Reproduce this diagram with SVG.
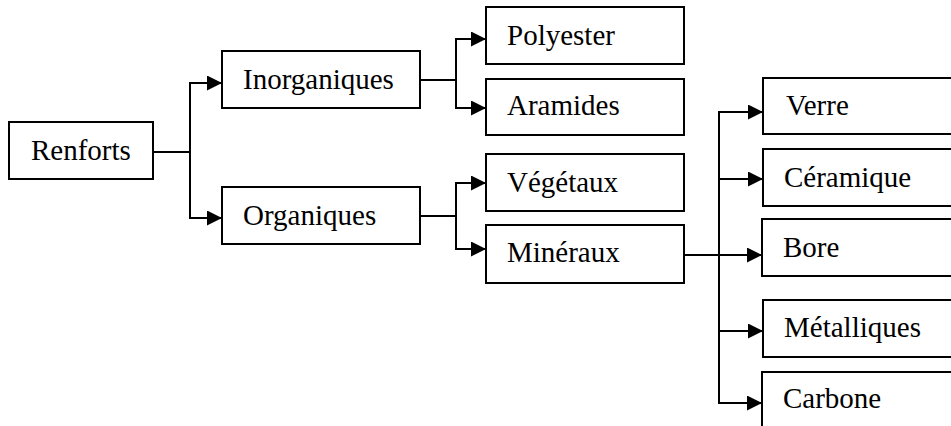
<svg xmlns="http://www.w3.org/2000/svg" width="951" height="426" viewBox="0 0 951 426">
<style>
.box{fill:#fff;stroke:#000;stroke-width:2}
.lbl{font-family:"Liberation Serif","Times New Roman",serif;font-size:29px;fill:#000}
.edge{fill:none;stroke:#000;stroke-width:2;marker-end:url(#arr)}
.plain{fill:none;stroke:#000;stroke-width:2}
</style>
<defs>
<marker id="arr" markerUnits="userSpaceOnUse" markerWidth="16" markerHeight="16" refX="15" refY="7.5" orient="auto">
<path d="M0,0 L15,7.5 L0,15 z" fill="#000"/>
</marker>
</defs>
<rect width="951" height="426" fill="#fff"/>
<g id="connectors">
<path class="edge" d="M153,152 H190 V83 H222"/>
<path class="edge" d="M153,152 H190 V218 H222"/>
<path class="edge" d="M420,80 H456 V39 H486"/>
<path class="edge" d="M420,80 H456 V108 H486"/>
<path class="edge" d="M420,216 H456 V183 H486"/>
<path class="edge" d="M420,216 H456 V249 H486"/>
<path class="edge" d="M684,255 H762"/>
<path class="plain" d="M719,111 V404"/>
<path class="edge" d="M719,112 H763"/>
<path class="edge" d="M719,179 H763"/>
<path class="edge" d="M719,331 H763"/>
<path class="edge" d="M719,403 H762"/>
</g>
<g id="renforts"><rect class="box" x="9" y="122" width="144" height="57"/><text class="lbl" x="31" y="160">Renforts</text></g>
<g id="inorganiques"><rect class="box" x="222" y="51" width="198" height="57"/><text class="lbl" x="243" y="89">Inorganiques</text></g>
<g id="organiques"><rect class="box" x="222" y="187" width="198" height="57"/><text class="lbl" x="243" y="225">Organiques</text></g>
<g id="polyester"><rect class="box" x="486" y="7" width="198" height="57"/><text class="lbl" x="507" y="45">Polyester</text></g>
<g id="aramides"><rect class="box" x="486" y="79" width="198" height="56"/><text class="lbl" x="507" y="115">Aramides</text></g>
<g id="vegetaux"><rect class="box" x="486" y="154" width="198" height="57"/><text class="lbl" x="507" y="192">Végétaux</text></g>
<g id="mineraux"><rect class="box" x="486" y="225" width="198" height="58"/><text class="lbl" x="507" y="262">Minéraux</text></g>
<g id="verre"><rect class="box" x="763" y="78" width="200" height="56"/><text class="lbl" x="786" y="115">Verre</text></g>
<g id="ceramique"><rect class="box" x="763" y="149" width="200" height="57"/><text class="lbl" x="784" y="187">Céramique</text></g>
<g id="bore"><rect class="box" x="762" y="219" width="200" height="57"/><text class="lbl" x="783" y="257">Bore</text></g>
<g id="metalliques"><rect class="box" x="763" y="300" width="200" height="57"/><text class="lbl" x="784" y="337">Métalliques</text></g>
<g id="carbone"><rect class="box" x="762" y="372" width="200" height="70"/><text class="lbl" x="783" y="408">Carbone</text></g>
</svg>
